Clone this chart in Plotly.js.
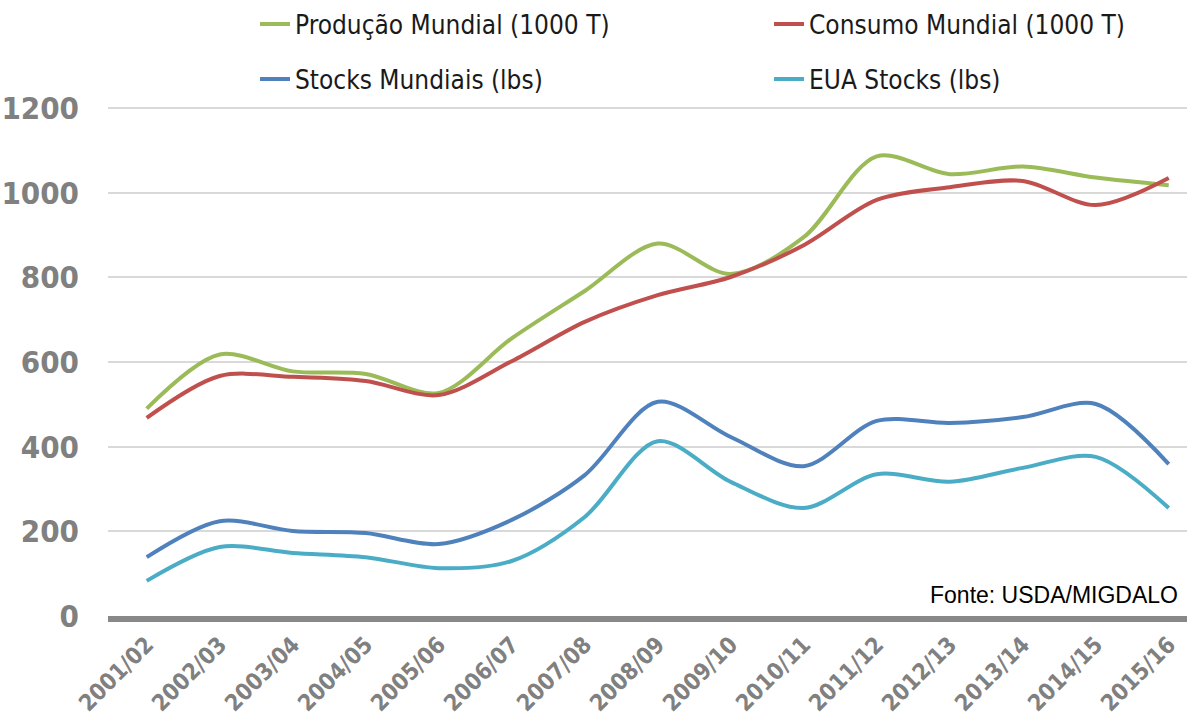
<!DOCTYPE html>
<html>
<head>
<meta charset="utf-8">
<script src="https://cdn.plot.ly/plotly-3.0.1.min.js"></script>
<style>html,body{margin:0;padding:0;background:#fff;}#chart{width:1187px;height:719px;}</style>
</head>
<body>
<div id="chart"></div>
<script>
const categories = ["2001/02","2002/03","2003/04","2004/05","2005/06","2006/07","2007/08","2008/09","2009/10","2010/11","2011/12","2012/13","2013/14","2014/15","2015/16"];
const producao = [490, 618, 578, 572, 527, 656, 768, 880, 808, 895, 1086, 1044, 1062, 1036, 1018];
const consumo  = [468, 567, 565, 555, 522, 602, 695, 758, 801, 876, 983, 1013, 1028, 971, 1035];
const stocksMundiais = [139, 224, 201, 196, 170, 227, 333, 506, 423, 354, 461, 456, 470, 501, 359];
const euaStocks = [83, 163, 149, 139, 113, 130, 234, 413, 317, 255, 335, 317, 350, 376, 255];
const yTicks = [0, 200, 400, 600, 800, 1000, 1200];

const names = ["Produção Mundial (1000 T)", "Consumo Mundial (1000 T)", "Stocks Mundiais (lbs)", "EUA Stocks (lbs)"];
const colors = ["#9BBB59", "#C0504D", "#4F81BD", "#4BACC6"];
const series = [producao, consumo, stocksMundiais, euaStocks];
const legendIds = ["legend", "legend2", "legend3", "legend4"];

const traces = series.map((s, i) => ({
  type: "scatter",
  mode: "lines",
  x: categories,
  y: s,
  name: names[i],
  legend: legendIds[i],
  line: {color: colors[i], width: 4, shape: "spline", smoothing: 0.9},
  hoverinfo: "x+y+name"
}));

const legendFont = {family: "DejaVu Sans Condensed, sans-serif", size: 26, color: "#1a1a1a"};
const tickFontFamily = "DejaVu Sans Condensed, sans-serif";

function legendAt(xPx, yPx) {
  return {
    orientation: "v", x: xPx / 1187, xanchor: "left", xref: "container",
    y: 1 - yPx / 719, yanchor: "middle", yref: "container",
    font: legendFont, bgcolor: "rgba(0,0,0,0)"
  };
}

const layout = {
  width: 1187,
  height: 719,
  margin: {l: 108, r: 0, t: 106, b: 103, autoexpand: false},
  paper_bgcolor: "#ffffff",
  plot_bgcolor: "#ffffff",
  showlegend: true,
  legend: legendAt(255, 24),
  legend2: legendAt(769, 24),
  legend3: legendAt(255, 79),
  legend4: legendAt(769, 79),
  xaxis: {
    type: "category",
    range: [-0.53, 14.25],
    showgrid: false,
    showline: true,
    linecolor: "#888888",
    linewidth: 6,
    zeroline: false,
    ticks: "",
    tickangle: -45,
    tickfont: {family: tickFontFamily, size: 23, color: "#808080", weight: "bold"},
    fixedrange: true
  },
  yaxis: {
    range: [0, 1205],
    tickvals: yTicks,
    ticktext: yTicks.map(String),
    showgrid: true,
    gridcolor: "#d9d9d9",
    gridwidth: 1.5,
    zeroline: false,
    showline: false,
    ticks: "",
    ticklabelstandoff: 28,
    tickfont: {family: tickFontFamily, size: 31, color: "#808080", weight: "bold"},
    fixedrange: true
  },
  annotations: [{
    text: "Fonte: USDA/MIGDALO",
    xref: "paper", yref: "paper",
    x: 1, y: 0.012, xanchor: "right", yanchor: "bottom",
    xshift: -7,
    showarrow: false,
    font: {family: "Liberation Sans, sans-serif", size: 23, color: "#000000"}
  }]
};

Plotly.newPlot("chart", traces, layout, {displayModeBar: false});
</script>
</body>
</html>
